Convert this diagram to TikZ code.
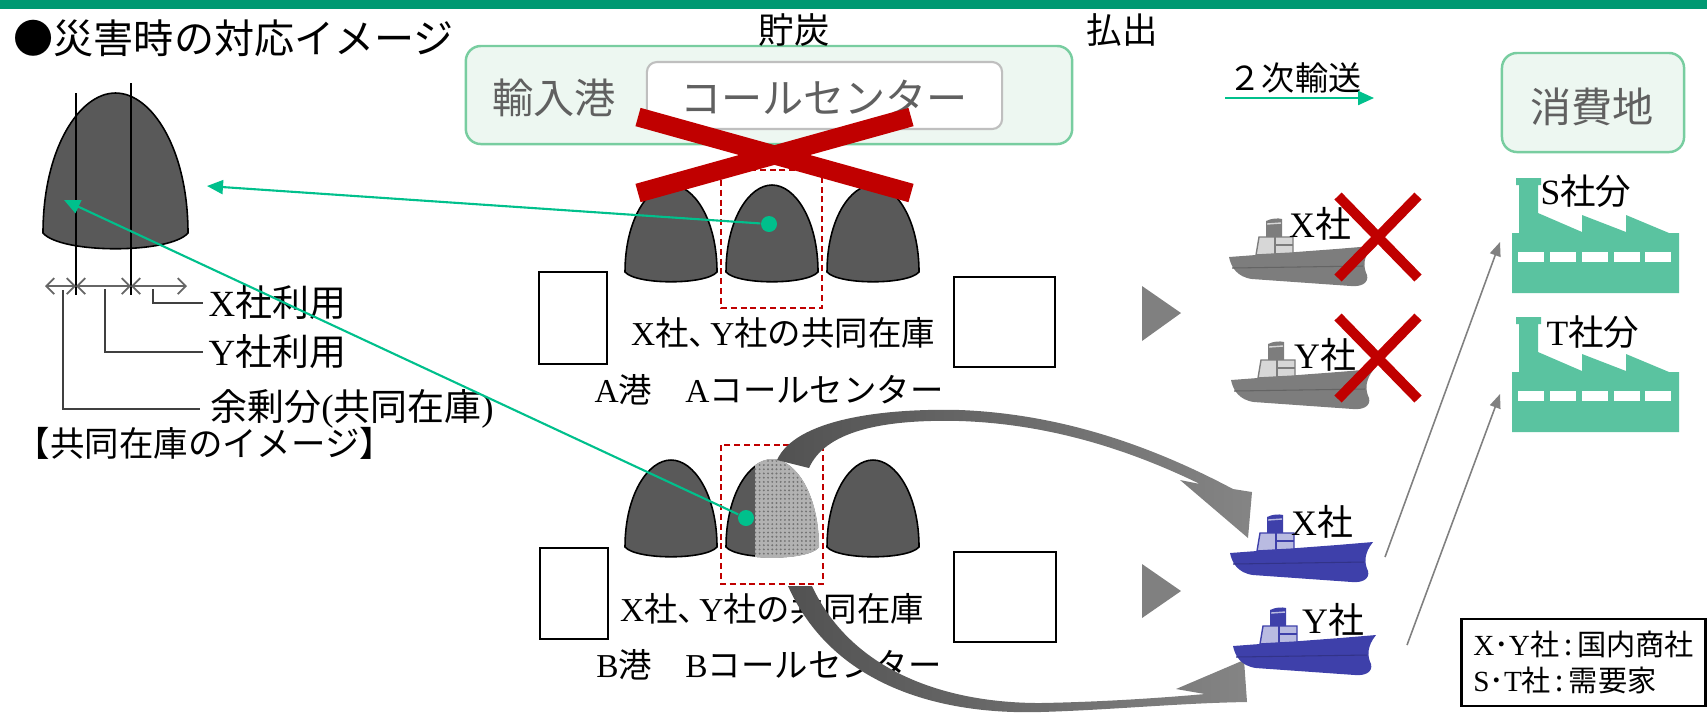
\documentclass[tikz,border=0pt]{standalone}
\usepackage{fontspec}
\setmainfont{Liberation Serif}
\newfontfamily\jpfont{Noto Sans CJK JP}
\usetikzlibrary{arrows.meta,patterns.meta}

\definecolor{barGreen}{RGB}{0,153,114}
\definecolor{boxLine}{RGB}{120,205,160}
\definecolor{boxFill}{RGB}{237,247,241}
\definecolor{pileGray}{RGB}{89,89,89}
\definecolor{linkGreen}{RGB}{0,192,140}
\definecolor{crossRed}{RGB}{192,0,0}
\definecolor{factoryGreen}{RGB}{90,195,160}
\definecolor{shipBlue}{RGB}{62,64,170}
\definecolor{cabinBlue}{RGB}{185,187,225}
\definecolor{shipGray}{RGB}{125,125,125}
\definecolor{cabinGray}{RGB}{215,215,215}
\definecolor{textGray}{RGB}{96,96,96}

% serif latin letters inside the gothic labels
\newcommand\rl[1]{{\rmfamily #1}}
% narrow comma between company names
\newcommand\cm{、\kern-0.35em}

\tikzset{
  jp/.style={font=\jpfont\fontsize{#1}{#1}\selectfont, inner sep=0pt},
  pileFill/.style={fill=pileGray, draw=black, line width=0.45pt},
  dotFill/.style={fill=black!30, draw=black!30, line width=0.6pt,
    postaction={pattern={Dots[distance=1.2pt, radius=0.3pt]}, pattern color=black!55}},
  stockbox/.style={draw=crossRed, line width=0.6pt, dash pattern=on 1.7pt off 1.1pt},
  yard/.style={draw=black, line width=0.6pt, fill=white},
  area/.style={draw=boxLine, fill=boxFill, line width=0.7pt, rounded corners=0.15cm},
  link/.style={draw=linkGreen, line width=0.6pt, -{Triangle[length=0.16cm,width=0.14cm]}},
  dot/.style={circle, fill=linkGreen, minimum size=0.16cm, inner sep=0pt},
  feed/.style={draw=black!50, line width=0.45pt, -{Triangle[length=0.14cm,width=0.11cm]}},
  dim/.style={draw=black!60, line width=0.5pt,
    {Straight Barb[length=0.08cm,width=0.16cm]}-{Straight Barb[length=0.08cm,width=0.16cm]}},
  leader/.style={draw=black!75, line width=0.4pt},
  flow/.style={left color=black!68, right color=black!48},
  pics/pile/.style={code={
    \path[#1] (-1,0) .. controls (-1,-0.6) and (-0.5,-1) .. (0,-1)
      .. controls (0.5,-1) and (1,-0.6) .. (1,0)
      .. controls (0.75,0.15) and (-0.75,0.15) .. (-1,0) -- cycle;
  }},
  pics/ship/.style 2 args={code={
    \fill[#1] (0,0) -- (107,-8) -- (143,-11) .. controls (134,0) and (134,10) .. (138,18)
      .. controls (140,26) and (132,30) .. (122,29) -- (23,22)
      .. controls (8,20) and (2,10) .. (0,0) -- cycle;
    \draw[#1!80!black, line width=0.3pt] (3,11) -- (134,9);
    \fill[#1] (37,-20) -- (37,-36) .. controls (43,-39) and (49,-39) .. (53,-38) -- (53,-20) -- cycle;
    \draw[#2, line width=0.4pt] (38,-33) -- (52,-34);
    \filldraw[fill=#2, draw=#1, line width=0.4pt] (27,-2) -- (30,-20) -- (64,-20) -- (64,-4) -- cycle;
    \draw[#1, line width=0.4pt] (46,-20) -- (46,-3) (46,-12) -- (64,-12);
  }},
  pics/factory/.style={code={
    \fill[factoryGreen] (-4,115) -- (-4,55) -- (3,55) -- (3,7) -- (0,7) -- (0,0)
      -- (25,0) -- (25,7) -- (22,7) -- (22,35) -- (66,54) -- (66,37) -- (110,54)
      -- (110,37) -- (153,55) -- (163,55) -- (163,115) -- cycle;
    \foreach \x in {2,34,66,98,129}
      \fill[white] (\x,74) rectangle (\x+26,84);
  }},
}

\begin{document}
\begin{tikzpicture}[x=0.01cm, y=-0.01cm]
  \useasboundingbox (0,0) rectangle (1707,714);

  % Top bar and title
  \fill[barGreen] (0,0) rectangle (1707,9);
  \node[jp=11.4, anchor=west] (title) at (13,38) {●災害時の対応イメージ};

  % Import port
  \node[area, minimum width=6.06cm, minimum height=0.98cm] (port) at (769,95) {};
  \node[draw=black!25, fill=white, line width=0.6pt, rounded corners=0.1cm,
    minimum width=3.55cm, minimum height=0.67cm] (centre) at (824.5,95.5) {};
  \node[jp=11.7, text=textGray] (portLbl) at (554,98) {輸入港};
  \node[jp=11.7, text=textGray] (centreLbl) at (824,98) {コールセンター};

  \node[jp=10.1] (storeLbl) at (794,30) {貯炭};
  \node[jp=10.1] (outLbl) at (1122,30) {払出};
  \node[jp=9.4] (transLbl) at (1295,78) {２次輸送};
  \coordinate (transL) at (1225,98);
  \coordinate (transR) at (1374,98);
  \draw[link] (transL) -- (transR);

  \node[area, minimum width=1.82cm, minimum height=0.99cm] (useArea) at (1593,102.5) {};
  \node[jp=11.7, text=textGray] (useLbl) at (1592,107) {消費地};

  % Shared stock pile
  \pic[xscale=72.5, yscale=140] at (115.5,233) {pile=pileFill};
  \draw[line width=0.6pt] (76,93) -- (76,295);
  \draw[line width=0.6pt] (131,83) -- (131,295);
  \coordinate (d0) at (45,286);
  \coordinate (d1) at (76,286);
  \coordinate (d2) at (131,286);
  \coordinate (d3) at (187,286);
  \foreach \a/\b in {d0/d1,d1/d2,d2/d3}
    \draw[dim] (\a) -- (\b);

  \node[jp=10.5, anchor=west] (xUse) at (208,303) {\rl{X}社利用};
  \node[jp=10.5, anchor=west] (yUse) at (208,352) {\rl{Y}社利用};
  \node[jp=10.5, anchor=west] (spare) at (210,409) {余剰分\rl{(}共同在庫\rl{)}};
  \node[jp=9.8, anchor=west] (stockLbl) at (15,443) {【共同在庫のイメージ】};
  \coordinate (xFoot) at (153,289);
  \coordinate (yFoot) at (105,289);
  \coordinate (sFoot) at (63,290);
  \draw[leader] (xFoot) |- ([xshift=-0.05cm]xUse.west);
  \draw[leader] (yFoot) |- ([xshift=-0.05cm]yUse.west);
  \draw[leader] (sFoot) |- ([xshift=-0.1cm]spare.west);

  % Port A
  \foreach \x in {671,772,873}
    \pic[xscale=46, yscale=87] at (\x,272) {pile=pileFill};
  \draw[stockbox] (721,170) rectangle (822,308);
  \draw[yard] (539,272) rectangle (607,364);
  \draw[yard] (954,277) rectangle (1055,367);
  \node[jp=9.5] (aStock) at (783,333) {\rl{X}社\cm\rl{Y}社の共同在庫};
  \node[jp=9.5] (aPort) at (769,390) {\rl{A}港　\rl{A}コールセンター};
  \fill[black!50] (1142,286) -- (1142,341) -- (1181,313) -- cycle;

  % Port A out of use
  \draw[crossRed, line width=0.19cm] (638,117) -- (911,193) (638,193) -- (911,117);

  % Port B
  \foreach \x in {671,772,873}
    \pic[xscale=46, yscale=87] at (\x,547) {pile=pileFill};
  \begin{scope}
    \clip (755,440) rectangle (830,570);
    \pic[xscale=46, yscale=87] at (772,547) {pile=dotFill};
  \end{scope}
  \draw[stockbox] (721,445) rectangle (823,584);
  \draw[yard] (540,548) rectangle (608,639);
  \draw[yard] (954,552) rectangle (1056,642);
  \node[jp=9.5] (bStock) at (772,609) {\rl{X}社\cm\rl{Y}社の共同在庫};
  \node[jp=9.5] (bPort) at (769,665) {\rl{B}港　\rl{B}コールセンター};
  \fill[black!50] (1142,564) -- (1142,618) -- (1181,591) -- cycle;

  % Coal going out of port B
  \shade[flow] (777,460) .. controls (795,420) and (880,408) .. (960,410)
    .. controls (1060,414) and (1150,445) .. (1233,489) -- (1252,492) -- (1248,538)
    -- (1180,480) -- (1200,484) .. controls (1130,450) and (1050,424) .. (960,421)
    .. controls (880,419) and (825,432) .. (809,468) -- cycle;
  \shade[flow] (788,586) .. controls (830,680) and (930,715) .. (1040,712)
    .. controls (1110,710) and (1180,703) .. (1247,702) -- (1244,660) -- (1176,689)
    -- (1205,694) .. controls (1160,698) and (1100,702) .. (1040,703)
    .. controls (940,703) and (850,668) .. (812,586) -- cycle;

  % Ships
  \pic at (1229,257) {ship={shipGray}{cabinGray}};
  \pic at (1231,380) {ship={shipGray}{cabinGray}};
  \pic at (1230,553) {ship={shipBlue}{cabinBlue}};
  \pic at (1233,646) {ship={shipBlue}{cabinBlue}};
  \node[jp=10.2] (xGray) at (1320,224) {\rl{X}社};
  \node[jp=10.2] (yGray) at (1325,355) {\rl{Y}社};
  \node[jp=10.2] (xBlue) at (1322,522) {\rl{X}社};
  \node[jp=10.2] (yBlue) at (1333,620) {\rl{Y}社};
  \foreach \y in {237,358}
    \draw[crossRed, line width=0.1cm] (1338,\y-41) -- (1418,\y+41) (1338,\y+41) -- (1418,\y-41);

  % Factories
  \pic at (1516,178) {factory};
  \pic at (1516,317) {factory};
  \node[jp=10.1] (sShare) at (1586,191) {\rl{S}社分};
  \node[jp=10.1] (tShare) at (1593,332) {\rl{T}社分};
  \coordinate (xOut) at (1385,557);
  \coordinate (sIn) at (1500,242);
  \coordinate (yOut) at (1407,645);
  \coordinate (tIn) at (1500,394);
  \draw[feed] (xOut) -- (sIn);
  \draw[feed] (yOut) -- (tIn);

  % Links to the stock image
  \node[dot] (dotA) at (769,224) {};
  \node[dot] (dotB) at (746,518) {};
  \coordinate (bigTop) at (207,186);
  \coordinate (bigLeft) at (64,200);
  \draw[link] (dotA) -- (bigTop);
  \draw[link] (dotB) -- (bigLeft);

  % Legend
  \node[draw, line width=0.6pt, minimum width=2.37cm, minimum height=0.87cm, align=left,
    font=\jpfont\fontsize{8.3}{10}\selectfont] (note) at (1583.5,662.5)
    {\rl{X}･\rl{Y}社\,:\,国内商社\\\rl{S}･\rl{T}社\,:\,需要家};
\end{tikzpicture}
\end{document}
